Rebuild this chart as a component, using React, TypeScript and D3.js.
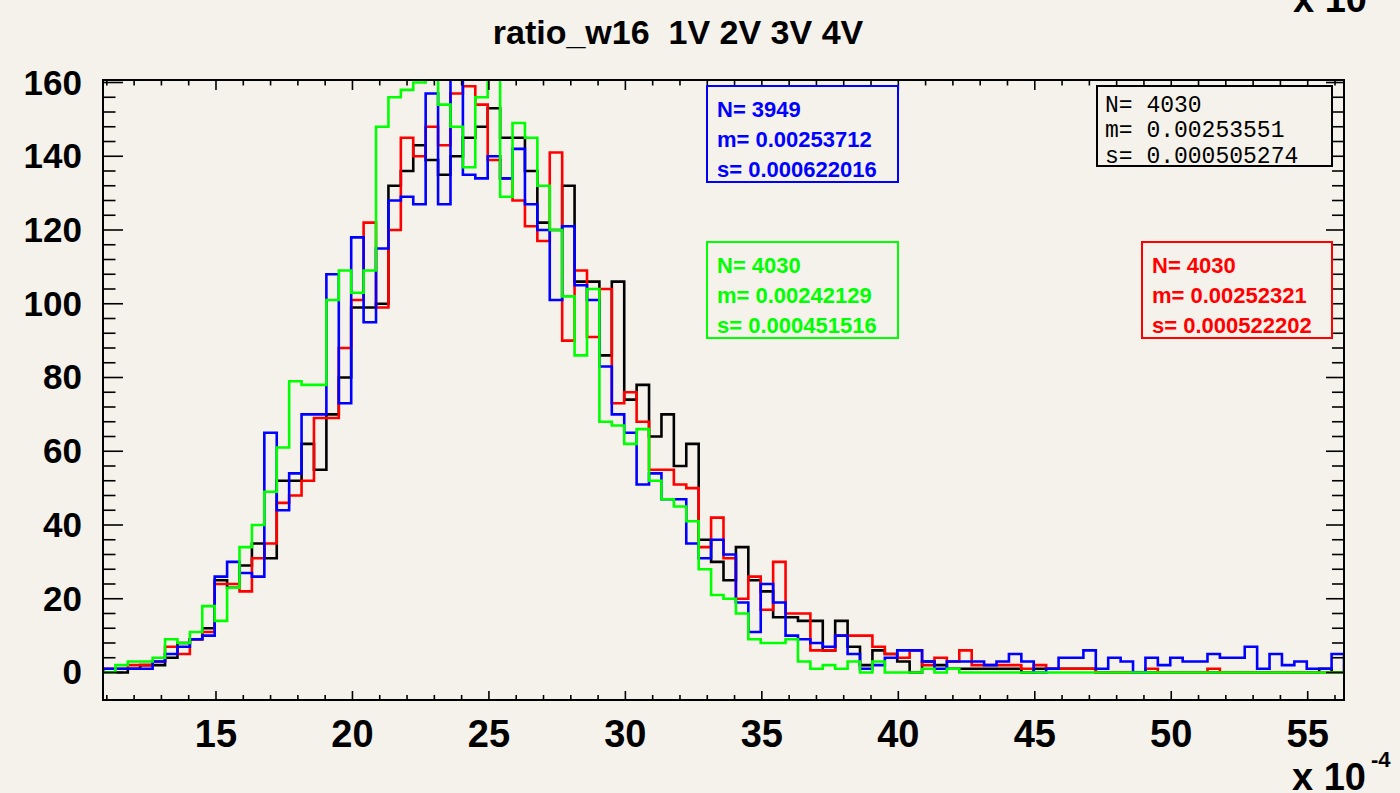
import * as d3 from 'd3'

const W = 1400
const H = 793

// frame edges (px)
const FL = 103
const FR = 1344
const FT = 80
const FB = 700

// histogram binning (x in units of 1e-4)
const X_MIN = 10.86
const X_MAX = 56.33
const N_BINS = 100

// bin contents, 100 bins each
const black = [
  0, 0, 1, 2, 2, 4, 8, 9, 12, 25, 23, 29, 35, 31, 52, 52, 62, 55, 70, 80,
  99, 99, 100, 132, 136, 143, 139, 135, 140, 145, 148, 153, 145, 145, 136, 122, 120, 132, 106, 106,
  86, 106, 74, 78, 64, 70, 56, 62, 36, 30, 25, 34, 25, 22, 15, 15, 14, 14, 6, 14,
  7, 2, 6, 5, 3, 0, 3, 2, 1, 1, 1, 1, 1, 1, 0, 1, 1, 1, 1, 1,
  0, 0, 0, 0, 0, 0, 0, 0, 0, 0, 0, 0, 0, 0, 0, 0, 0, 0, 1, 0,
]
const red = [
  1, 1, 2, 2, 3, 7, 5, 9, 11, 24, 24, 22, 31, 35, 46, 48, 52, 69, 69, 88,
  101, 122, 99, 120, 145, 140, 148, 143, 157, 159, 154, 139, 134, 128, 121, 117, 141, 90, 109, 91,
  104, 73, 76, 68, 55, 55, 51, 50, 34, 42, 31, 20, 26, 17, 30, 16, 16, 6, 6, 10,
  10, 10, 7, 5, 4, 6, 2, 4, 3, 6, 2, 2, 2, 2, 1, 2, 1, 1, 1, 1,
  0, 0, 0, 0, 1, 0, 0, 0, 0, 1, 0, 0, 0, 0, 0, 0, 0, 0, 0, 0,
]
const blue = [
  1, 1, 1, 1, 3, 5, 7, 9, 10, 26, 30, 27, 26, 65, 44, 54, 70, 70, 108, 73,
  118, 95, 115, 128, 129, 127, 157, 127, 164, 135, 134, 140, 134, 142, 127, 120, 101, 121, 105, 101,
  83, 70, 65, 51, 54, 47, 47, 35, 31, 36, 32, 19, 11, 24, 19, 10, 9, 8, 7, 10,
  5, 1, 2, 4, 6, 6, 3, 1, 3, 3, 3, 2, 3, 5, 3, 0, 1, 4, 4, 6,
  1, 4, 3, 0, 4, 2, 4, 3, 3, 5, 4, 4, 7, 1, 5, 2, 3, 1, 1, 5,
]
const green = [
  0, 2, 3, 3, 4, 9, 8, 11, 18, 14, 23, 34, 40, 49, 61, 79, 78, 78, 101, 109,
  103, 109, 148, 156, 158, 160, 168, 154, 148, 137, 156, 170, 129, 149, 145, 132, 120, 102, 86, 104,
  68, 67, 62, 66, 52, 47, 45, 41, 28, 21, 20, 16, 9, 8, 8, 9, 3, 1, 2, 1,
  3, 0, 3, 0, 0, 0, 1, 0, 1, 0, 0, 0, 0, 0, 0, 0, 0, 0, 0, 0,
  0, 0, 0, 0, 0, 0, 0, 0, 0, 0, 0, 0, 0, 0, 0, 0, 0, 0, 0, 0,
]

const xMajor = [15, 20, 25, 30, 35, 40, 45, 50, 55]
const yMajor = [0, 20, 40, 60, 80, 100, 120, 140, 160]

const SERIES = [
  { key: 'black', color: '#000000', values: black },
  { key: 'red', color: '#ff0000', values: red },
  { key: 'blue', color: '#0000ff', values: blue },
  { key: 'green', color: '#00ff00', values: green },
]

const STATS = [
  { color: '#0000ff', x: 707, y: 86, w: 191, h: 96, lines: ['N= 3949', 'm= 0.00253712', 's= 0.000622016'] },
  { color: '#00ff00', x: 707, y: 242, w: 191, h: 96, lines: ['N= 4030', 'm= 0.00242129', 's= 0.000451516'] },
  { color: '#ff0000', x: 1142, y: 242, w: 190, h: 96, lines: ['N= 4030', 'm= 0.00252321', 's= 0.000522202'] },
]
const blackStats = ['N= 4030', 'm= 0.00253551', 's= 0.000505274']

const SANS = '"Liberation Sans", Arial, Helvetica, sans-serif'
const MONO = '"Liberation Mono", "Courier New", monospace'
const BG = '#f5f2eb'

export default function App() {
  const x = d3.scaleLinear().domain([X_MIN, X_MAX]).range([FL, FR])
  const y = d3.scaleLinear().domain([-7.46, 160.68]).range([FB, FT])
  const bw = (X_MAX - X_MIN) / N_BINS

  const line = d3.line<[number, number]>()

  // step outline, dropping to zero at both ends
  function histPath(vals: number[]): string {
    const pts: [number, number][] = [[x(X_MIN), y(0)]]
    vals.forEach((v, i) => {
      const lo = X_MIN + i * bw
      const hi = lo + bw
      pts.push([x(lo), y(v)], [x(hi), y(v)])
    })
    pts.push([x(X_MAX), y(0)])
    return line(pts) ?? ''
  }

  const xMinor = d3.range(11, 57, 1)
  const yMinor = d3.range(0, 161, 4)

  return (
    <svg
      width={W}
      height={H}
      style={{ position: 'absolute', left: 0, top: 0, display: 'block', background: BG }}
    >
      <rect x={0} y={0} width={W} height={H} fill={BG} />
      <defs>
        <clipPath id="plot">
          <rect x={FL} y={FT} width={FR - FL} height={FB - FT} />
        </clipPath>
      </defs>

      {/* title */}
      <text x={678} y={44} textAnchor="middle" fontFamily={SANS} fontWeight="bold" fontSize={34}>
        ratio_w16{'\u00a0\u00a0'}1V 2V 3V 4V
      </text>
      <text x={1293} y={12} fontFamily={SANS} fontWeight="bold" fontSize={38}>x 10</text>

      {/* histograms */}
      <g clipPath="url(#plot)">
        {SERIES.map((s) => (
          <path key={s.key} d={histPath(s.values)} fill="none" stroke={s.color} strokeWidth={2.6} />
        ))}
      </g>

      {/* frame */}
      <rect x={FL} y={FT} width={FR - FL} height={FB - FT} fill="none" stroke="#000" strokeWidth={2} />

      {/* x ticks, bottom + top */}
      {xMinor.map((t) => {
        const major = t % 5 === 0
        const px = x(t)
        return (
          <g key={'xt' + t}>
            <line x1={px} x2={px} y1={FB} y2={FB - (major ? 9 : 5)} stroke="#000" strokeWidth={1.6} />
            <line x1={px} x2={px} y1={FT} y2={FT + (major ? 10 : 5.5)} stroke="#000" strokeWidth={1.6} />
          </g>
        )
      })}
      {xMajor.map((t) => (
        <text key={'xl' + t} x={x(t)} y={747} textAnchor="middle" fontFamily={SANS} fontWeight="bold" fontSize={38}>
          {t}
        </text>
      ))}
      <text x={1292} y={790} fontFamily={SANS} fontWeight="bold" fontSize={38}>x 10</text>
      <text x={1371} y={767} fontFamily={SANS} fontWeight="bold" fontSize={22}>-4</text>

      {/* y ticks, left + right */}
      {yMinor.map((t) => {
        const major = t % 20 === 0
        const py = y(t)
        return (
          <g key={'yt' + t}>
            <line x1={FL} x2={FL + (major ? 20 : 12.5)} y1={py} y2={py} stroke="#000" strokeWidth={1.6} />
            <line x1={FR} x2={FR - (major ? 18 : 12)} y1={py} y2={py} stroke="#000" strokeWidth={1.6} />
          </g>
        )
      })}
      {yMajor.map((t) => (
        <text key={'yl' + t} x={82} y={y(t) + 12} textAnchor="end" fontFamily={SANS} fontWeight="bold" fontSize={35}>
          {t}
        </text>
      ))}

      {/* stats boxes */}
      {STATS.map((b) => (
        <g key={b.color + b.y}>
          <rect x={b.x} y={b.y} width={b.w} height={b.h} fill={BG} stroke={b.color} strokeWidth={2} />
          {b.lines.map((l, i) => (
            <text
              key={l}
              x={b.x + 10}
              y={b.y + 30.5 + i * 30}
              fill={b.color}
              fontFamily={SANS}
              fontWeight="bold"
              fontSize={22}
            >
              {l}
            </text>
          ))}
        </g>
      ))}
      <g>
        <rect x={1097} y={86} width={235} height={80} fill={BG} stroke="#000" strokeWidth={2} />
        {blackStats.map((l, i) => (
          <text key={l} x={1105} y={111.5 + i * 25.5} fontFamily={MONO} fontSize={23} fill="#000">
            {l}
          </text>
        ))}
      </g>
    </svg>
  )
}
